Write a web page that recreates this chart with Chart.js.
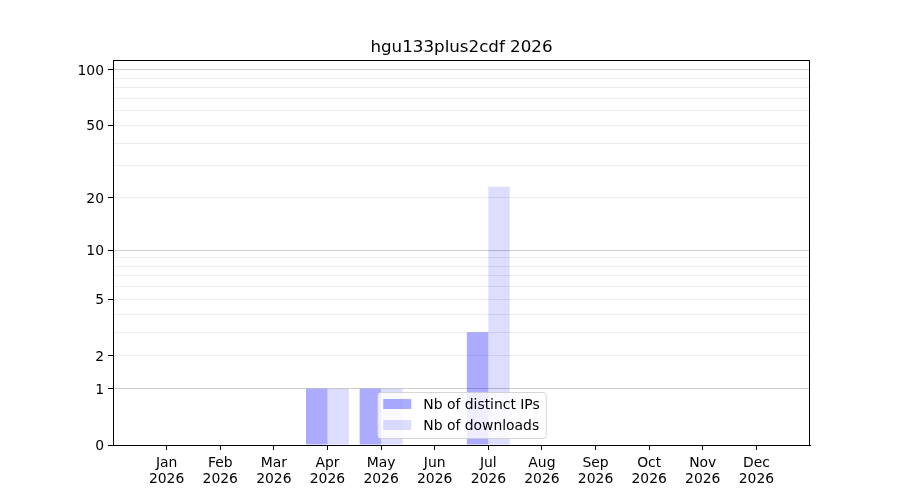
<!DOCTYPE html>
<html>
<head>
<meta charset="utf-8">
<script src="https://cdn.jsdelivr.net/npm/chart.js@4/dist/chart.umd.min.js"></script>
<style>
  body { margin: 0; background: #fff; }
</style>
</head>
<body>
<canvas id="downloadsChart" width="900" height="500"></canvas>
<script>
const chartTitle = "hgu133plus2cdf 2026";
const year = "2026";
const months = ["Jan", "Feb", "Mar", "Apr", "May", "Jun", "Jul", "Aug", "Sep", "Oct", "Nov", "Dec"];
const distinctIps = [0, 0, 0, 1, 1, 0, 3, 0, 0, 0, 0, 0];
const downloads = [0, 0, 0, 1, 1, 0, 23, 0, 0, 0, 0, 0];
const yTickLabels = [0, 1, 2, 5, 10, 20, 50, 100];
const yMinorTicks = [3, 4, 6, 7, 8, 9, 30, 40, 60, 70, 80, 90];
const yMajorGrid = [1, 10, 100];
const yMax = 113;

// y axis scaled as log10(1 + v), like the matplotlib original
const f = (v) => Math.log10(1 + v);

class Log1pScale extends Chart.Scale {
    static id = "log1p";
    static defaults = {};

    determineDataLimits() {
        this.min = 0;
        this.max = this.options.max;
    }

    buildTicks() {
        return [...yTickLabels, ...yMinorTicks]
            .sort((a, b) => a - b)
            .map((v) => ({ value: v }));
    }

    configure() {
        super.configure();
        this._lo = f(this.min);
        this._hi = f(this.max);
    }

    getPixelForValue(v) {
        if (v === null || v === undefined || isNaN(v)) return NaN;
        return this.getPixelForDecimal((f(v) - this._lo) / (this._hi - this._lo));
    }

    getValueForPixel(p) {
        const d = this.getDecimalForPixel(p);
        return Math.pow(10, this._lo + d * (this._hi - this._lo)) - 1;
    }
}
Chart.register(Log1pScale);

Chart.defaults.font.family = "DejaVu Sans";
Chart.defaults.font.size = 13.9;
Chart.defaults.color = "#000";

// one empty slot each side, so the axis runs a full month past Jan and Dec
const labels = ["", ...months.map((m) => [m, year]), ""];
const pad = (arr) => [null, ...arr, null];

const framePlugin = {
    id: "frameTitleLegend",
    afterDatasetsDraw(chart) {
        const { ctx, chartArea: a } = chart;
        ctx.save();

        ctx.strokeStyle = "#000";
        ctx.lineWidth = 1;
        ctx.strokeRect(a.left + 0.5, a.top + 0.5, a.right - a.left - 1, a.bottom - a.top);

        // title
        ctx.fillStyle = "#000";
        ctx.font = "16.7px 'DejaVu Sans'";
        ctx.textAlign = "center";
        ctx.textBaseline = "alphabetic";
        ctx.fillText(chartTitle, (a.left + a.right) / 2, 52);

        // legend, lower center inside the axes
        ctx.font = "13.9px 'DejaVu Sans'";
        ctx.textBaseline = "middle";
        const sets = chart.data.datasets;
        const textW = Math.max(...sets.map((d) => ctx.measureText(d.label).width));
        const w = 6 + 28 + 12 + textW + 6;
        const h = 46;
        const x0 = (a.left + a.right) / 2 - w / 2;
        const y0 = a.bottom - 7 - h;

        ctx.beginPath();
        ctx.roundRect(x0 + 0.5, y0 + 0.5, w, h, 3);
        ctx.fillStyle = "rgba(255,255,255,0.8)";
        ctx.fill();
        ctx.strokeStyle = "rgba(204,204,204,0.8)";
        ctx.stroke();

        ctx.textAlign = "left";
        sets.forEach((d, i) => {
            const cy = y0 + 12 + i * 21;
            ctx.fillStyle = d.backgroundColor;
            ctx.fillRect(x0 + 6, cy - 5, 28, 10);
            ctx.fillStyle = "#000";
            ctx.fillText(d.label, x0 + 6 + 28 + 12, cy + 1);
        });

        ctx.restore();
    },
};

new Chart(document.getElementById("downloadsChart"), {
    type: "bar",

    data: {
        labels: labels,

        datasets: [
            {
                label: "Nb of distinct IPs",
                data: pad(distinctIps),
                backgroundColor: "rgba(0,0,255,0.33)",
                categoryPercentage: 0.8,
                barPercentage: 1.0,
                inflateAmount: 0,
            },
            {
                label: "Nb of downloads",
                data: pad(downloads),
                backgroundColor: "rgba(0,0,255,0.133)",
                categoryPercentage: 0.8,
                barPercentage: 1.0,
                inflateAmount: 0,
            },
        ],
    },

    options: {
        responsive: false,
        animation: false,
        devicePixelRatio: 1,

        layout: {
            padding: { left: 0, right: 90, top: 60, bottom: 0 },
        },

        plugins: {
            legend: { display: false },
            title: { display: false },
            tooltip: { enabled: false },
        },

        scales: {
            x: {
                offset: false,
                grid: {
                    offset: false,
                    drawOnChartArea: false,
                    tickLength: 5,
                    tickColor: (c) =>
                        c.index === 0 || c.index === labels.length - 1 ? "rgba(0,0,0,0)" : "#000",
                },
                border: { color: "#000" },
                ticks: {
                    autoSkip: false,
                    maxRotation: 0,
                    padding: 5,
                    font: { lineHeight: 1.15 },
                },
                afterFit: (s) => {
                    s.height = 55;
                },
            },

            y: {
                type: "log1p",
                max: yMax,
                grid: {
                    tickLength: 5,
                    color: (c) => {
                        const v = c.tick ? c.tick.value : null;
                        if (v === 0) return "rgba(0,0,0,0)";
                        return yMajorGrid.includes(v) ? "#cccccc" : "#ececec";
                    },
                    tickColor: (c) =>
                        c.tick && yTickLabels.includes(c.tick.value) ? "#000" : "rgba(0,0,0,0)",
                },
                border: { color: "#000" },
                ticks: {
                    autoSkip: false,
                    padding: 4,
                    labelOffset: 1.5,
                    callback: (v) => (yTickLabels.includes(v) ? String(v) : ""),
                },
                afterFit: (s) => {
                    s.width = 113;
                },
            },
        },
    },

    plugins: [framePlugin],
});
</script>
</body>
</html>
